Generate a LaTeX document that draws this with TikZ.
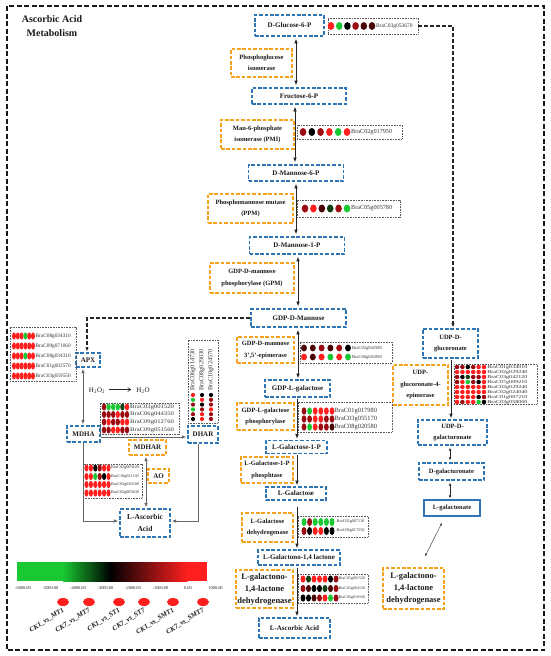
\documentclass[tikz,border=0pt]{standalone}
\usepackage{fontspec}
\setmainfont{Liberation Serif}
\usetikzlibrary{arrows.meta}
\definecolor{cB}{HTML}{2E75B6}
\definecolor{cO}{HTML}{F7A21B}
\definecolor{gR}{HTML}{FF1F1F}
\definecolor{gG}{HTML}{19C832}
\definecolor{gK}{HTML}{000000}
\definecolor{gD}{HTML}{9A0C12}
\definecolor{gV}{HTML}{4A0606}
\definecolor{gE}{HTML}{123E12}
\definecolor{txt}{HTML}{1A1A1A}
\newcommand{\GeneRow}[9]{%
  \edef\GeneList{#6}%
  \foreach \gc [count=\gi from 0] in \GeneList {\fill[fill=\gc] ({#1+\gi*#3},#2) ellipse [x radius=#4pt, y radius=#5pt];}%
  \node[genelab,anchor=west,#8] at (#7,#2) {#9};%
}
\tikzset{
 box/.style={line width=1.3pt, dash pattern=on 3.6pt off 1.8pt, inner sep=1pt, align=center, text=txt},
 met/.style={box, draw=cB, font=\fontsize{7}{11}\selectfont\bfseries},
 enz/.style={box, draw=cO, font=\fontsize{6.5}{11.5}\selectfont\bfseries},
 gpanel/.style={draw=black!65, line width=0.45pt, dash pattern=on 0.8pt off 0.8pt, inner sep=0pt},
 genelab/.style={inner sep=0pt, text=black!80, font=\fontsize{5}{5}\selectfont},
 arr/.style={draw=black!85, line width=0.9pt, -{Latex[length=4.8pt,width=3.8pt]}},
 darr/.style={draw=black!85, line width=0.9pt, {Latex[length=4.8pt,width=3.8pt]}-{Latex[length=4.8pt,width=3.8pt]}},
 garr/.style={draw=black!60, line width=0.9pt, -{Latex[length=4.5pt,width=3.6pt]}},
 gdarr/.style={draw=black!60, line width=0.9pt, {Latex[length=4.5pt,width=3.6pt]}-{Latex[length=4.5pt,width=3.6pt]}},
 sdarr/.style={draw=black!85, line width=0.6pt, {Latex[length=3pt,width=2.6pt]}-{Latex[length=3pt,width=2.6pt]}},
 dasharr/.style={draw=black!85, line width=1.1pt, dash pattern=on 4pt off 2pt, -{Latex[length=4pt,width=3.4pt]}},
}
\begin{document}
\begin{tikzpicture}[x=1pt,y=-1pt]
\useasboundingbox (0,0) rectangle (550,656);
\draw[black!90, line width=1.4pt, dash pattern=on 5pt off 2.5pt] (7,6) rectangle (544,650);
\node[font=\fontsize{10}{14}\selectfont\bfseries, align=center, text=txt] (title) at (52,26) {Ascorbic Acid\\Metabolism};

% metabolites
\node[met, minimum width=69pt, minimum height=21pt] (glc) at (289.5,25.5) {D-Glucose-6-P};
\node[met, minimum width=94pt, minimum height=16pt] (f6p) at (299,96) {Fructose-6-P};
\node[met, minimum width=95pt, minimum height=16pt] (m6p) at (296,173) {D-Mannose-6-P};
\node[met, minimum width=95pt, minimum height=17pt] (m1p) at (297,245.5) {D-Mannose-1-P};
\node[met, minimum width=95pt, minimum height=18pt] (gdpm) at (298.5,318) {GDP-D-Mannose};
\node[met, minimum width=65pt, minimum height=17pt] (gdpl) at (297.5,388.5) {GDP-L-galactose};
\node[met, minimum width=61pt, minimum height=13pt] (lg1p) at (296.5,447) {L-Galactose-1-P};
\node[met, minimum width=60pt, minimum height=13pt] (lgal) at (296,493.5) {L-Galactose};
\node[met, minimum width=82pt, minimum height=15pt] (lgl) at (299,557.5) {L-Galactono-1,4 lactone};
\node[met, minimum width=71pt, minimum height=20pt] (asa) at (294.5,628) {L-Ascorbic Acid};
\node[met, minimum width=55pt, minimum height=29pt, font=\fontsize{6.5}{11}\selectfont\bfseries] (udpglc) at (450.5,343.5) {UDP-D-\\glucoronate};
\node[met, minimum width=69pt, minimum height=25pt, font=\fontsize{6.5}{11}\selectfont\bfseries] (udpgal) at (452.5,432.5) {UDP-D-\\galacturonate};
\node[met, minimum width=65pt, minimum height=17pt, font=\fontsize{6.5}{11}\selectfont\bfseries] (dgal) at (451.5,471.5) {D-galacturonate};
\node[met, solid, minimum width=56pt, minimum height=16pt, font=\fontsize{6.5}{11}\selectfont\bfseries] (lgalc) at (452,508) {L-galactonate};
\node[met, minimum width=24pt, minimum height=14pt] (apx) at (88,360) {APX};
\node[met, minimum width=33pt, minimum height=16pt] (mdha) at (83.5,434) {MDHA};
\node[met, minimum width=30pt, minimum height=17pt] (dhar) at (203,434.5) {DHAR};
\node[met, minimum width=50pt, minimum height=28pt, font=\fontsize{7.5}{12}\selectfont\bfseries] (asal) at (145,523) {L-Ascorbic\\Acid};

% enzymes
\node[enz, minimum width=61pt, minimum height=28pt] (e1) at (261.5,63) {Phosphoglucose\\isomerase};
\node[enz, minimum width=73pt, minimum height=29pt] (e2) at (257.5,134.5) {Man-6-phosphate\\isomerase (PMI)};
\node[enz, minimum width=85pt, minimum height=29pt] (e3) at (250.5,208.5) {Phosphomannose mutase\\(PPM)};
\node[enz, minimum width=84pt, minimum height=30pt] (e4) at (252,278) {GDP-D-mannose\\phosphorylase (GPM)};
\node[enz, minimum width=57pt, minimum height=26pt] (e5) at (265.5,350) {GDP-D-mannose\\3',5'-epimerase};
\node[enz, minimum width=57pt, minimum height=27pt] (e6) at (265.5,416.5) {GDP-L-galactose\\phosphorylase};
\node[enz, minimum width=52pt, minimum height=26pt] (e7) at (267,470) {L-Galactose-1-P\\phosphtase};
\node[enz, minimum width=51pt, minimum height=29pt] (e8) at (267.5,527.5) {L-Galactose\\dehydrogenase};
\node[enz, minimum width=57pt, minimum height=38pt, font=\fontsize{8.5}{12}\selectfont\bfseries] (e9) at (264.5,589) {L-galactono-\\1,4-lactone\\dehydrogenase};
\node[enz, minimum width=55pt, minimum height=40pt, font=\fontsize{6.5}{11.5}\selectfont\bfseries] (e10) at (420.5,385) {UDP-\\glucoronate-4-\\epimerase};
\node[enz, minimum width=61pt, minimum height=41pt, font=\fontsize{8.5}{12}\selectfont\bfseries] (e11) at (413.5,588.5) {L-galactono-\\1,4-lactone\\dehydrogenase};
\node[enz, minimum width=37pt, minimum height=15pt, font=\fontsize{7}{8}\selectfont\bfseries] (mdhar) at (147.5,447.5) {MDHAR};
\node[enz, minimum width=21pt, minimum height=14pt, font=\fontsize{7}{8}\selectfont\bfseries] (ao) at (158.5,476) {AO};

% gene panels
\node[gpanel, minimum width=90pt, minimum height=16pt] (p1) at (373,26) {};
\GeneRow{331}{26}{8.2}{3.3}{3.9}{gR,gG,gK,gD,gV,gV}{376}{font=\fontsize{5.5}{5.5}\selectfont}{BraC03g053670}
\node[gpanel, minimum width=105pt, minimum height=14pt] (p2) at (349.5,132) {};
\GeneRow{303}{132}{8.8}{3.3}{4}{gD,gK,gD,gR,gG,gR}{351}{font=\fontsize{6.2}{6.2}\selectfont}{BraC02g017950}
\node[gpanel, minimum width=103pt, minimum height=17pt] (p3) at (348.5,208.5) {};
\GeneRow{305}{208.5}{8.4}{3.3}{4}{gD,gR,gV,gE,gD,gG}{351}{font=\fontsize{6.2}{6.2}\selectfont}{BraC05g005780}
\node[gpanel, minimum width=92pt, minimum height=21pt] (p4) at (346,352.5) {};
\GeneRow{304}{348}{8.8}{3}{3.4}{gV,gV,gD,gV,gD,gK}{352}{font=\fontsize{4.5}{4.5}\selectfont}{BraC02g042580}
\GeneRow{304}{357}{8.8}{3}{3.4}{gR,gV,gR,gG,gR,gG}{352}{font=\fontsize{4.5}{4.5}\selectfont}{BraC06g041090}
\node[gpanel, minimum width=94pt, minimum height=30pt] (p5) at (345,417) {};
\GeneRow{304}{411}{5.6}{2.4}{3.7}{gD,gG,gR,gR,gR,gR}{334.5}{font=\fontsize{6.4}{6.4}\selectfont}{BraC01g017980}
\GeneRow{304}{419}{5.6}{2.4}{3.7}{gD,gD,gR,gR,gD,gD}{334.5}{font=\fontsize{6.4}{6.4}\selectfont}{BraC03g055170}
\GeneRow{304}{427}{5.6}{2.4}{3.7}{gD,gG,gR,gD,gD,gV}{334.5}{font=\fontsize{6.4}{6.4}\selectfont}{BraC08g020580}
\node[gpanel, minimum width=70pt, minimum height=21pt] (p6) at (333,526.5) {};
\GeneRow{304}{522}{5.6}{2.5}{4}{gG,gD,gG,gG,gG,gG}{336.5}{font=\fontsize{4.2}{4.2}\selectfont}{BraC05g007110}
\GeneRow{304}{531}{5.6}{2.5}{4}{gD,gK,gR,gR,gK,gK}{336.5}{font=\fontsize{4.2}{4.2}\selectfont}{BraC08g017250}
\node[gpanel, minimum width=70pt, minimum height=29pt] (p7) at (333,588.5) {};
\GeneRow{303}{579}{5.5}{2.5}{3.6}{gR,gE,gR,gR,gR,gK,gD}{338.5}{font=\fontsize{4}{4}\selectfont}{BraC05g001520}
\GeneRow{303}{588.5}{5.5}{2.5}{3.6}{gD,gV,gK,gK,gE,gV,gD}{338.5}{font=\fontsize{4}{4}\selectfont}{BraC02g004120}
\GeneRow{303}{598}{5.5}{2.5}{3.6}{gK,gK,gV,gD,gR,gG,gD}{338.5}{font=\fontsize{4}{4}\selectfont}{BraC06g019160}
\node[gpanel, minimum width=83pt, minimum height=40pt] (p8) at (495.5,384) {};
\foreach \cols/\lab [count=\k from 0] in {{gD,gD,gK,gD,gR,gR}/BraC01g034010, {gR,gR,gR,gR,gR,gR}/BraC02g029240, {gD,gK,gE,gD,gD,gR}/BraC03g042120, {gD,gR,gG,gD,gK,gR}/BraC07g009210, {gR,gR,gR,gR,gR,gR}/BraC02g029240, {gR,gR,gR,gR,gR,gR}/BraC02g024040, {gR,gR,gR,gR,gK,gD}/BraC01g007210, {gR,gD,gR,gR,gG,gK}/BraC03g058060}{
  \GeneRow{457}{367+5*\k}{5.4}{2.3}{2.2}{\cols}{487}{font=\fontsize{4.5}{4.5}\selectfont, xscale=1.35, transform shape}{\lab}
}
\node[gpanel, minimum width=66pt, minimum height=54pt] (p9) at (43,354) {};
\GeneRow{14}{336}{3.8}{2}{3.6}{gR,gR,gR,gG,gR,gR}{35.5}{font=\fontsize{5.3}{5.3}\selectfont}{BraC08g034310}
\GeneRow{14}{346}{3.8}{2}{3.6}{gR,gR,gR,gR,gR,gR}{35.5}{font=\fontsize{5.3}{5.3}\selectfont}{BraC09g071060}
\GeneRow{14}{356}{3.8}{2}{3.6}{gR,gR,gR,gG,gR,gR}{35.5}{font=\fontsize{5.3}{5.3}\selectfont}{BraC08g034310}
\GeneRow{14}{366}{3.8}{2}{3.6}{gR,gR,gR,gR,gR,gR}{35.5}{font=\fontsize{5.3}{5.3}\selectfont}{BraC01g002570}
\GeneRow{14}{376}{3.8}{2}{3.6}{gR,gR,gR,gR,gR,gR}{35.5}{font=\fontsize{5.3}{5.3}\selectfont}{BraC03g059550}
\node[gpanel, minimum width=79pt, minimum height=31pt] (p10) at (139.5,418.5) {};
\GeneRow{104}{407}{4.6}{2.2}{3.5}{gD,gG,gG,gG,gE,gR}{130}{font=\fontsize{5.5}{5.5}\selectfont, xscale=1.2, transform shape}{BraC03g001520}
\GeneRow{104}{414.5}{4.6}{2.2}{3.5}{gD,gD,gD,gR,gD,gD}{130}{font=\fontsize{5.5}{5.5}\selectfont, xscale=1.2, transform shape}{BraC06g044350}
\GeneRow{104}{422}{4.6}{2.2}{3.5}{gD,gR,gD,gD,gR,gR}{130}{font=\fontsize{5.5}{5.5}\selectfont, xscale=1.2, transform shape}{BraC09g012760}
\GeneRow{104}{430}{4.6}{2.2}{3.5}{gD,gD,gR,gR,gD,gD}{130}{font=\fontsize{5.5}{5.5}\selectfont, xscale=1.2, transform shape}{BraC09g051560}
\node[gpanel, minimum width=59pt, minimum height=34pt] (p11) at (112.5,481) {};
\GeneRow{86.5}{468}{4.4}{2.1}{3.6}{gR,gR,gK,gD,gR,gR}{111}{font=\fontsize{4.2}{4.2}\selectfont}{BraC02g009420}
\GeneRow{86.5}{476.5}{4.4}{2.1}{3.6}{gR,gR,gG,gD,gK,gR}{111}{font=\fontsize{4.2}{4.2}\selectfont}{BraC10g021130}
\GeneRow{86.5}{484.5}{4.4}{2.1}{3.6}{gR,gR,gR,gR,gR,gR}{111}{font=\fontsize{4.2}{4.2}\selectfont}{BraC03g036500}
\GeneRow{86.5}{493}{4.4}{2.1}{3.6}{gR,gR,gR,gR,gR,gR}{111}{font=\fontsize{4.2}{4.2}\selectfont}{BraC02g009430}
\node[gpanel, minimum width=30pt, minimum height=83pt] (p12) at (203,381.5) {};
\foreach \x/\cols/\lab in {193/{gR,gG,gD,gG,gD,gK}/BraC06g014730, 202/{gK,gR,gK,gD,gR,gR}/BraC08g029030, 211/{gK,gD,gD,gR,gD,gD}/BraC10g024570}{
  \foreach \gc [count=\gi from 0] in \cols {\fill[fill=\gc] (\x,{395+\gi*4.8}) circle [radius=2.1pt];}
  \node[genelab, rotate=90, anchor=west, font=\fontsize{6.3}{6.3}\selectfont] at (\x,391) {\lab};
}

% main chain arrows
\draw[darr] ([xshift=6.5pt,yshift=-2pt]glc.south) -- ([xshift=-3pt,yshift=2pt]f6p.north);
\draw[darr] ([xshift=-4pt,yshift=-2pt]f6p.south) -- ([xshift=-1pt,yshift=2pt]m6p.north);
\draw[darr] ([yshift=-2pt]m6p.south) -- ([xshift=-1pt,yshift=2pt]m1p.north);
\draw[darr] ([xshift=1pt,yshift=-2pt]m1p.south) -- ([xshift=-0.5pt,yshift=2pt]gdpm.north);
\draw[darr] ([xshift=-0.5pt,yshift=-2pt]gdpm.south) -- ([xshift=0.5pt,yshift=1pt]gdpl.north);
\draw[arr] ([xshift=-0.5pt,yshift=-1pt]gdpl.south) -- ([xshift=0.5pt,yshift=1pt]lg1p.north);
\draw[arr] ([xshift=0.5pt,yshift=-1pt]lg1p.south) -- ([xshift=1pt,yshift=1pt]lgal.north);
\draw[arr] ([xshift=1pt,yshift=-6pt]lgal.south) -- ([xshift=-2pt,yshift=1pt]lgl.north);
\draw[arr] ([xshift=-2pt,yshift=-2pt]lgl.south) -- ([xshift=2.5pt,yshift=1pt]asa.north);

% right branch
\draw[dasharr] (p1.east) -| ([xshift=2.5pt,yshift=1pt]udpglc.north);
\draw[arr] ([xshift=0.5pt,yshift=-1pt]udpglc.south) -- ([xshift=-1.5pt,yshift=1pt]udpgal.north);
\draw[sdarr] ([xshift=-2.5pt,yshift=-2pt]udpgal.south) -- ([xshift=-1.5pt,yshift=2pt]dgal.north);
\draw[sdarr] ([xshift=-1.5pt,yshift=-2pt]dgal.south) -- ([xshift=-2pt,yshift=1pt]lgalc.north);
\draw[draw=black!70, line width=0.5pt, {Latex[length=3pt,width=2.4pt]}-{Latex[length=3pt,width=2.4pt]}] ([xshift=-10pt,yshift=-6pt]lgalc.south) -- ([xshift=11.5pt,yshift=11pt]e11.north);

% left branch
\draw[dasharr] (gdpm.west) -| ([xshift=-1pt,yshift=1pt]apx.north);
\draw[gdarr] ([xshift=-5pt,yshift=-1pt]apx.south) -- ([xshift=-0.5pt,yshift=1pt]mdha.north);
\draw[garr] ([yshift=-3pt]mdha.east) -- ([yshift=-2.5pt,xshift=-1pt]dhar.west);
\draw[garr] (mdha.south) |- ([yshift=2pt,xshift=-1pt]asal.west);
\draw[garr] ([xshift=-5pt]dhar.south) |- ([yshift=2pt,xshift=1pt]asal.east);
\draw[gdarr] ([xshift=-1.5pt,yshift=-1pt]mdhar.south) -- ([xshift=1pt,yshift=1pt]asal.north);
\node[font=\fontsize{7}{7}\selectfont, text=txt, inner sep=1pt] (h2o2) at (97,391) {H\textsubscript{2}O\textsubscript{2}};
\node[font=\fontsize{7}{7}\selectfont, text=txt, inner sep=1pt] (h2o) at (143,391) {H\textsubscript{2}O};
\draw[black!85, line width=0.6pt, -{Straight Barb[length=3pt,width=4pt]}] ([xshift=3pt,yshift=1.5pt]h2o2.east) -- ([xshift=-4pt,yshift=1.5pt]h2o.west);

% colour bar
\fill[gG] (17,562) rectangle (63.5,581);
\shade[left color=gG, right color=black] (63,562) rectangle (110.5,581);
\shade[left color=black, right color=gR] (110,562) rectangle (187.5,581);
\fill[gR] (187,562) rectangle (207,581);
\foreach \v [count=\i from 0] in {-6000.00,-5000.00,-4000.00,-3000.00,-2000.00,-1000.00,0.00,1000.00}{
  \node[font=\fontsize{4.4}{5}\selectfont, text=txt, inner sep=0pt] at ({23+27.5*\i},588) {\v};
}
\foreach \x/\t in {63/{CK1\_vs\_MT1}, 89/{CK7\_vs\_MT7}, 119/{CK1\_vs\_ST1}, 144/{CK7\_vs\_ST7}, 173/{CK1\_vs\_SMT1}, 203/{CK7\_vs\_SMT7}}{
  \fill[gR] (\x,602) ellipse [x radius=6pt, y radius=4pt];
  \node[rotate=33, anchor=north east, inner sep=0pt, text=txt, font=\fontsize{7}{7}\selectfont\bfseries\itshape] at (\x-1,607) {\t};
}
\end{tikzpicture}
\end{document}
